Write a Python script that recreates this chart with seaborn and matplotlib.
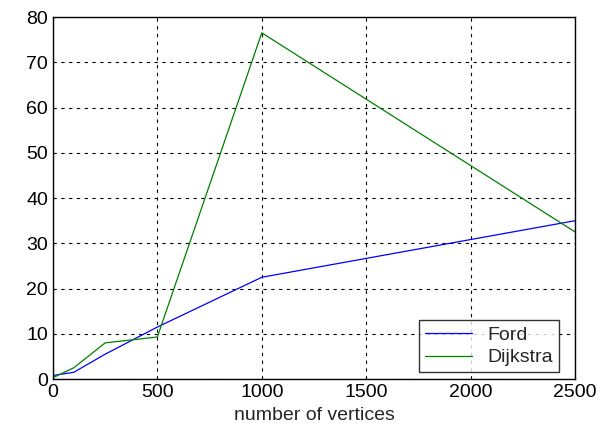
import pandas as pd
import matplotlib
matplotlib.use('Agg')
import matplotlib.pyplot as plt
import seaborn as sns

vertices = [0, 100, 250, 500, 1000, 2500]
ford = [0.8, 1.5, 5.5, 11.5, 22.5, 35.0]
dijkstra = [0.3, 2.5, 8.0, 9.3, 76.5, 32.5]

df = pd.DataFrame({
    'vertices': vertices * 2,
    'time': ford + dijkstra,
    'algo': ['Ford'] * len(vertices) + ['Dijkstra'] * len(vertices),
})

sns.set_style('white')
plt.rcParams['font.family'] = ['Liberation Sans', 'DejaVu Sans']

fig = plt.figure(figsize=(6.01, 4.25), dpi=100)
ax = fig.add_axes([0.088, 0.108, 0.869, 0.852])
sns.lineplot(data=df, x='vertices', y='time', hue='algo',
             palette={'Ford': '#0000ff', 'Dijkstra': '#008000'},
             linewidth=0.9, ax=ax)

ax.set_xlim(0, 2500)
ax.set_ylim(0, 80)
ax.set_xticks([0, 500, 1000, 1500, 2000, 2500])
ax.set_yticks(range(0, 81, 10))
ax.grid(True, linestyle=(0, (3, 4)), color='black', linewidth=0.8)
ax.tick_params(direction='in', length=4, labelsize=14, colors='black')
for s in ax.spines.values():
    s.set_color('black')
    s.set_linewidth(1.0)
ax.set_xlabel('number of vertices', fontsize=14, labelpad=4)
ax.set_ylabel('')

leg = ax.legend(loc='lower right', bbox_to_anchor=(0.969, 0.019), borderaxespad=0,
                fontsize=14, frameon=True, fancybox=False, edgecolor='black',
                handlelength=2.4, labelspacing=0.25, borderpad=0.3)
leg.get_frame().set_linewidth(1.0)

fig.savefig('out.png', dpi=100)
